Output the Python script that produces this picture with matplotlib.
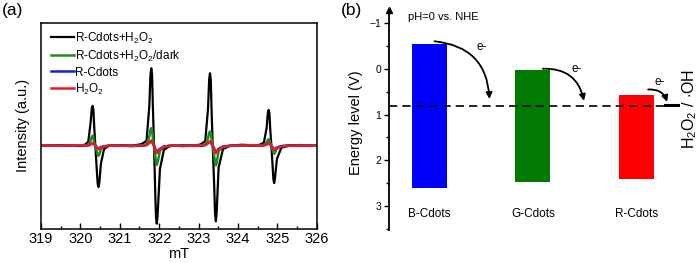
#!/usr/bin/env python3
"""
EPR spectra (a) and band-edge energy levels (b) for R/G/B-Cdots.
"""

import matplotlib
matplotlib.use("Agg")
import matplotlib.pyplot as plt
from matplotlib.patches import FancyArrowPatch

plt.rcParams['font.family'] = ['Liberation Sans', 'DejaVu Sans']
plt.rcParams['mathtext.fontset'] = 'custom'
plt.rcParams['mathtext.rm'] = 'Liberation Sans'
plt.rcParams['mathtext.it'] = 'Liberation Sans:italic'

# ---- panel (a): DMPO-OH spectra (arb. units) ----
field_mt = [319.00, 319.50, 320.00,
            320.12, 320.20, 320.26, 320.29, 320.31, 320.33, 320.35, 320.38, 320.42, 320.44, 320.46, 320.48, 320.52, 320.60, 320.72,
            321.00, 321.30,
            321.55, 321.68, 321.75, 321.78, 321.80, 321.82, 321.84, 321.87, 321.90, 321.92, 321.94, 321.96, 322.02, 322.12, 322.28,
            322.60, 322.90,
            323.05, 323.17, 323.24, 323.27, 323.29, 323.31, 323.33, 323.36, 323.40, 323.42, 323.44, 323.46, 323.51, 323.62, 323.80,
            324.10, 324.40,
            324.55, 324.66, 324.73, 324.76, 324.78, 324.80, 324.82, 324.85, 324.88, 324.90, 324.92, 324.94, 324.99, 325.10, 325.28,
            325.60, 326.00]

black_int = [0, 1, 0,
             4, 12, 70, 112, 120, 108, 60, 0, -80, -115, -124, -112, -55, -10, 0,
             1, 0,
             5, 15, 120, 215, 233, 215, 120, 0, -140, -215, -234, -210, -70, -12, 0,
             0, 1,
             4, 14, 110, 200, 218, 200, 110, 0, -130, -205, -227, -200, -65, -10, 0,
             2, 1,
             3, 10, 55, 100, 108, 98, 50, 0, -60, -100, -112, -98, -40, -6, 0,
             0, 0]

green_int = [0, 1, 0,
             1, 3, 15, 27, 30, 26, 12, 0, -18, -27, -30, -26, -10, -2, 0,
             0, 0,
             1, 5, 28, 48, 53, 48, 25, 0, -30, -50, -57, -50, -15, -3, 0,
             0, 1,
             1, 4, 22, 39, 43, 39, 20, 0, -32, -52, -59, -52, -15, -3, 0,
             1, 0,
             1, 2, 10, 18, 20, 17, 8, 0, -12, -21, -24, -21, -8, -1, 0,
             0, 0]

blue_int = [0, 1, 0,
            0, 1, 4, 6, 7, 6, 4, 0, -4, -7, -8, -7, -4, -1, 0,
            2, 0,
            0, 2, 8, 13, 14, 13, 7, 0, -8, -15, -18, -16, -9, -2, 0,
            1, 0,
            0, 2, 8, 11, 12, 11, 6, 0, -8, -16, -19, -17, -9, -2, 0,
            3, 1,
            0, 1, 4, 6, 7, 6, 3, 0, -5, -9, -10, -9, -5, -1, 1,
            2, 0]

red_int = [1, 0, 2,
           0, 2, 5, 7, 8, 7, 5, 0, -5, -9, -10, -9, -6, -2, 0,
           1, -1,
           1, 3, 10, 15, 16, 15, 9, 0, -10, -19, -22, -20, -12, -3, 1,
           -1, 0,
           1, 3, 9, 13, 14, 13, 8, 0, -10, -19, -22, -20, -12, -3, 0,
           1, 2,
           0, 2, 5, 7, 8, 7, 4, 0, -6, -11, -12, -11, -7, -2, 0,
           1, 0]

series_labels = ['R-Cdots+H$_2$O$_2$', 'R-Cdots+H$_2$O$_2$/dark', 'R-Cdots', 'H$_2$O$_2$']
field_ticks = [319, 320, 321, 322, 323, 324, 325, 326]

# ---- panel (b): band positions (V vs NHE) ----
dots = ['B-Cdots', 'G-Cdots', 'R-Cdots']
lumo_v = [-0.54, 0.02, 0.57]
homo_v = [2.61, 2.47, 2.41]
redox_v = 0.81
# electron-transfer arrows: (x, V) start and end, and the "e-" label spot
arrow_start = [(0.02, -0.61), (1.07, 0.00), (2.09, 0.46)]
arrow_end = [(0.58, 0.72), (1.50, 0.76), (2.31, 0.78)]
e_label = [(0.50, -0.47), (1.42, 0.00), (2.23, 0.28)]
energy_ticks = [-1, 0, 1, 2, 3]


def plot_epr(ax):
    ax.plot(field_mt, black_int, color='black', lw=1.6, label=series_labels[0])
    ax.plot(field_mt, green_int, color='#1f8a1f', lw=1.8, label=series_labels[1])
    ax.plot(field_mt, blue_int, color='#1a1acc', lw=1.8, label=series_labels[2])
    ax.plot(field_mt, red_int, color='#e02020', lw=1.8, label=series_labels[3])

    ax.set_xlim(319, 326)
    ax.set_ylim(-250, 370)
    ax.set_xticks(field_ticks)
    ax.set_xticks([t + 0.5 for t in field_ticks[:-1]], minor=True)
    ax.tick_params(axis='x', which='major', direction='in', length=4, width=1,
                   labelsize=10.5, pad=2)
    ax.tick_params(axis='x', which='minor', direction='in', length=2.5, width=1)
    ax.tick_params(axis='y', left=False, labelleft=False)
    for s in ax.spines.values():
        s.set_linewidth(1.1)

    ax.set_xlabel('mT', fontsize=10.5)
    ax.xaxis.set_label_coords(0.5, -0.085)
    ax.set_ylabel('Intensity (a.u.)', fontsize=10.5)
    ax.yaxis.set_label_coords(-0.04, 0.5)

    ax.legend(loc='upper left', bbox_to_anchor=(0.02, 0.985), frameon=False,
              fontsize=8.5, handlelength=1.9, handletextpad=0.15,
              labelspacing=0.25, borderaxespad=0)


def plot_levels(ax):
    colors = ['#0000ff', '#007a00', '#ff0000']
    xs = list(range(len(dots)))
    heights = [h - l for l, h in zip(lumo_v, homo_v)]
    ax.bar(xs, heights, bottom=lumo_v, width=0.34, color=colors)

    ax.axhline(redox_v, xmin=0.0, xmax=0.935, color='black', lw=1.2, ls=(0, (5, 3)))
    ax.plot([2.28, 2.41], [redox_v - 0.01, redox_v - 0.01], color='black', lw=2.2)

    for (x0, y0), (x1, y1) in zip(arrow_start, arrow_end):
        arr = FancyArrowPatch((x0, y0), (x1, y1), connectionstyle='arc3,rad=-0.45',
                              arrowstyle='-|>', mutation_scale=9, color='black', lw=1.3)
        ax.add_patch(arr)
    for x, y in e_label:
        ax.text(x, y, 'e-', fontsize=8.5, ha='center', va='center')

    for x, name in zip(xs, dots):
        ax.text(x, 3.17, name, fontsize=8.5, ha='center', va='center')

    ax.text(-0.21, -1.13, 'pH=0 vs. NHE', fontsize=8, ha='left', va='center')
    ax.text(2.52, 0.88, r'H$_2$O$_2$ / $\cdot$OH', fontsize=11.5, rotation=90,
            ha='center', va='center')

    ax.set_xlim(-0.394, 2.6)
    ax.set_ylim(3.53, -1.29)
    for side in ['top', 'right', 'bottom']:
        ax.spines[side].set_visible(False)
    ax.spines['left'].set_linewidth(1.3)
    ax.plot([0], [1], marker='^', color='black', markersize=5,
            transform=ax.transAxes, clip_on=False)
    ax.set_xticks([])
    ax.set_yticks(energy_ticks)
    ax.set_yticks([-0.5, 0.5, 1.5, 2.5, 3.5], minor=True)
    ax.tick_params(axis='y', which='major', direction='out', length=3.5, width=1,
                   labelsize=7.5, pad=2)
    ax.tick_params(axis='y', which='minor', direction='out', length=2, width=1)
    ax.set_ylabel('Energy level (V)', fontsize=10.5)
    ax.yaxis.set_label_coords(-0.084, 0.49)


def main():
    fig = plt.figure(figsize=(7, 2.63), dpi=100)
    ax_a = fig.add_axes([41 / 700, 1 - 229 / 263, 275.7 / 700, 206.3 / 263])
    ax_b = fig.add_axes([389 / 700, 1 - 230 / 263, 309 / 700, 220 / 263])

    plot_epr(ax_a)
    plot_levels(ax_b)

    fig.text(2 / 700, 1 - 3 / 263, '(a)', fontsize=12.5, ha='left', va='top')
    fig.text(341 / 700, 1 - 3 / 263, '(b)', fontsize=12.5, ha='left', va='top')

    fig.savefig('out.png', dpi=100)
    plt.close(fig)


if __name__ == "__main__":
    main()
